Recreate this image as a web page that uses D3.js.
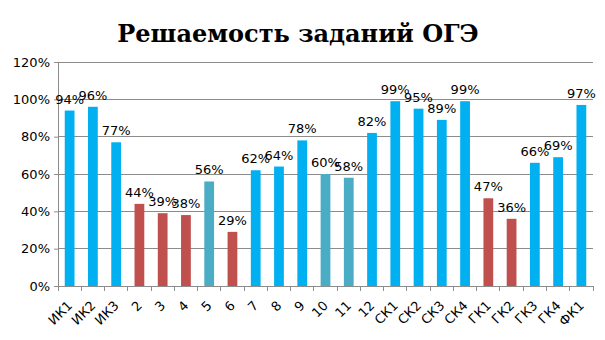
<!DOCTYPE html>
<html>
<head>
<meta charset="utf-8">
<script src="https://cdn.jsdelivr.net/npm/d3@7"></script>
<style>
  html, body { margin: 0; padding: 0; background: #fff; }
  svg { display: block; }
</style>
</head>
<body>
<script>
// Task labels and solve rates (%)
const categories = ["ИК1","ИК2","ИК3","2","3","4","5","6","7","8","9","10","11","12","СК1","СК2","СК3","СК4","ГК1","ГК2","ГК3","ГК4","ФК1"];
const values = [94, 96, 77, 44, 39, 38, 56, 29, 62, 64, 78, 60, 58, 82, 99, 95, 89, 99, 47, 36, 66, 69, 97];
// Colour group per task: 0 = blue, 1 = red, 2 = teal
const groups = [0,0,0,1,1,1,2,1,0,0,0,2,2,0,0,0,0,0,1,1,0,0,0];
const groupColors = ["#00B0F0", "#C0504D", "#4BACC6"];
const yTicks = [0, 20, 40, 60, 80, 100, 120];
const title = "Решаемость заданий ОГЭ";

const W = 605, H = 340;
const m = { left: 58, right: 12, top: 62, bottom: 54 };

const svg = d3.select("body").append("svg").attr("width", W).attr("height", H);

svg.append("text")
  .attr("x", 298).attr("y", 42)
  .attr("text-anchor", "middle")
  .attr("font-family", "DejaVu Serif")
  .attr("font-weight", "bold")
  .attr("font-size", 24)
  .text(title);

const x = d3.scaleBand().domain(categories).range([m.left, W - m.right]).paddingInner(0.58).paddingOuter(0.29);
const y = d3.scaleLinear().domain([0, 120]).range([H - m.bottom, m.top]);

// Horizontal gridlines
svg.append("g").selectAll("line").data(yTicks).join("line")
  .attr("x1", m.left).attr("x2", W - m.right)
  .attr("y1", d => y(d)).attr("y2", d => y(d))
  .attr("stroke", "#8c8c8c").attr("stroke-width", 1)
  .attr("shape-rendering", "crispEdges");

// Y axis
const yAxis = svg.append("g").attr("transform", `translate(${m.left},0)`)
  .call(d3.axisLeft(y).tickValues(yTicks).tickFormat(d => d + "%").tickSize(4).tickPadding(4));
yAxis.select(".domain").attr("stroke", "#8c8c8c").attr("shape-rendering", "crispEdges");
yAxis.selectAll(".tick line").attr("stroke", "#8c8c8c");
yAxis.selectAll("text").attr("font-family", "DejaVu Sans").attr("font-size", 13).attr("fill", "#000");

// X axis line and boundary ticks
const xg = svg.append("g");
xg.append("line")
  .attr("x1", m.left).attr("x2", W - m.right)
  .attr("y1", y(0)).attr("y2", y(0))
  .attr("stroke", "#8c8c8c").attr("shape-rendering", "crispEdges");
const bounds = d3.range(categories.length + 1).map(i => m.left + i * (W - m.left - m.right) / categories.length);
xg.selectAll("line.tk").data(bounds).join("line").attr("class", "tk")
  .attr("x1", d => d).attr("x2", d => d)
  .attr("y1", y(0)).attr("y2", y(0) + 5)
  .attr("stroke", "#8c8c8c").attr("shape-rendering", "crispEdges");

// Category labels, rotated
xg.selectAll("text").data(categories).join("text")
  .attr("transform", d => `translate(${x(d) + x.bandwidth() / 2 - 3},${y(0) + 14}) rotate(-45)`)
  .attr("text-anchor", "end")
  .attr("dy", "0.7em")
  .attr("font-family", "DejaVu Sans")
  .attr("font-size", 13)
  .attr("fill", "#000")
  .text(d => d);

// Bars
svg.append("g").selectAll("rect").data(categories).join("rect")
  .attr("x", d => x(d))
  .attr("width", x.bandwidth())
  .attr("y", (d, i) => y(values[i]))
  .attr("height", (d, i) => y(0) - y(values[i]))
  .attr("fill", (d, i) => groupColors[groups[i]]);

// Value labels
svg.append("g").selectAll("text").data(categories).join("text")
  .attr("x", d => x(d) + x.bandwidth() / 2)
  .attr("y", (d, i) => y(values[i]) - 7)
  .attr("text-anchor", "middle")
  .attr("font-family", "DejaVu Sans")
  .attr("font-size", 13)
  .attr("fill", "#000")
  .text((d, i) => values[i] + "%");
</script>
</body>
</html>
